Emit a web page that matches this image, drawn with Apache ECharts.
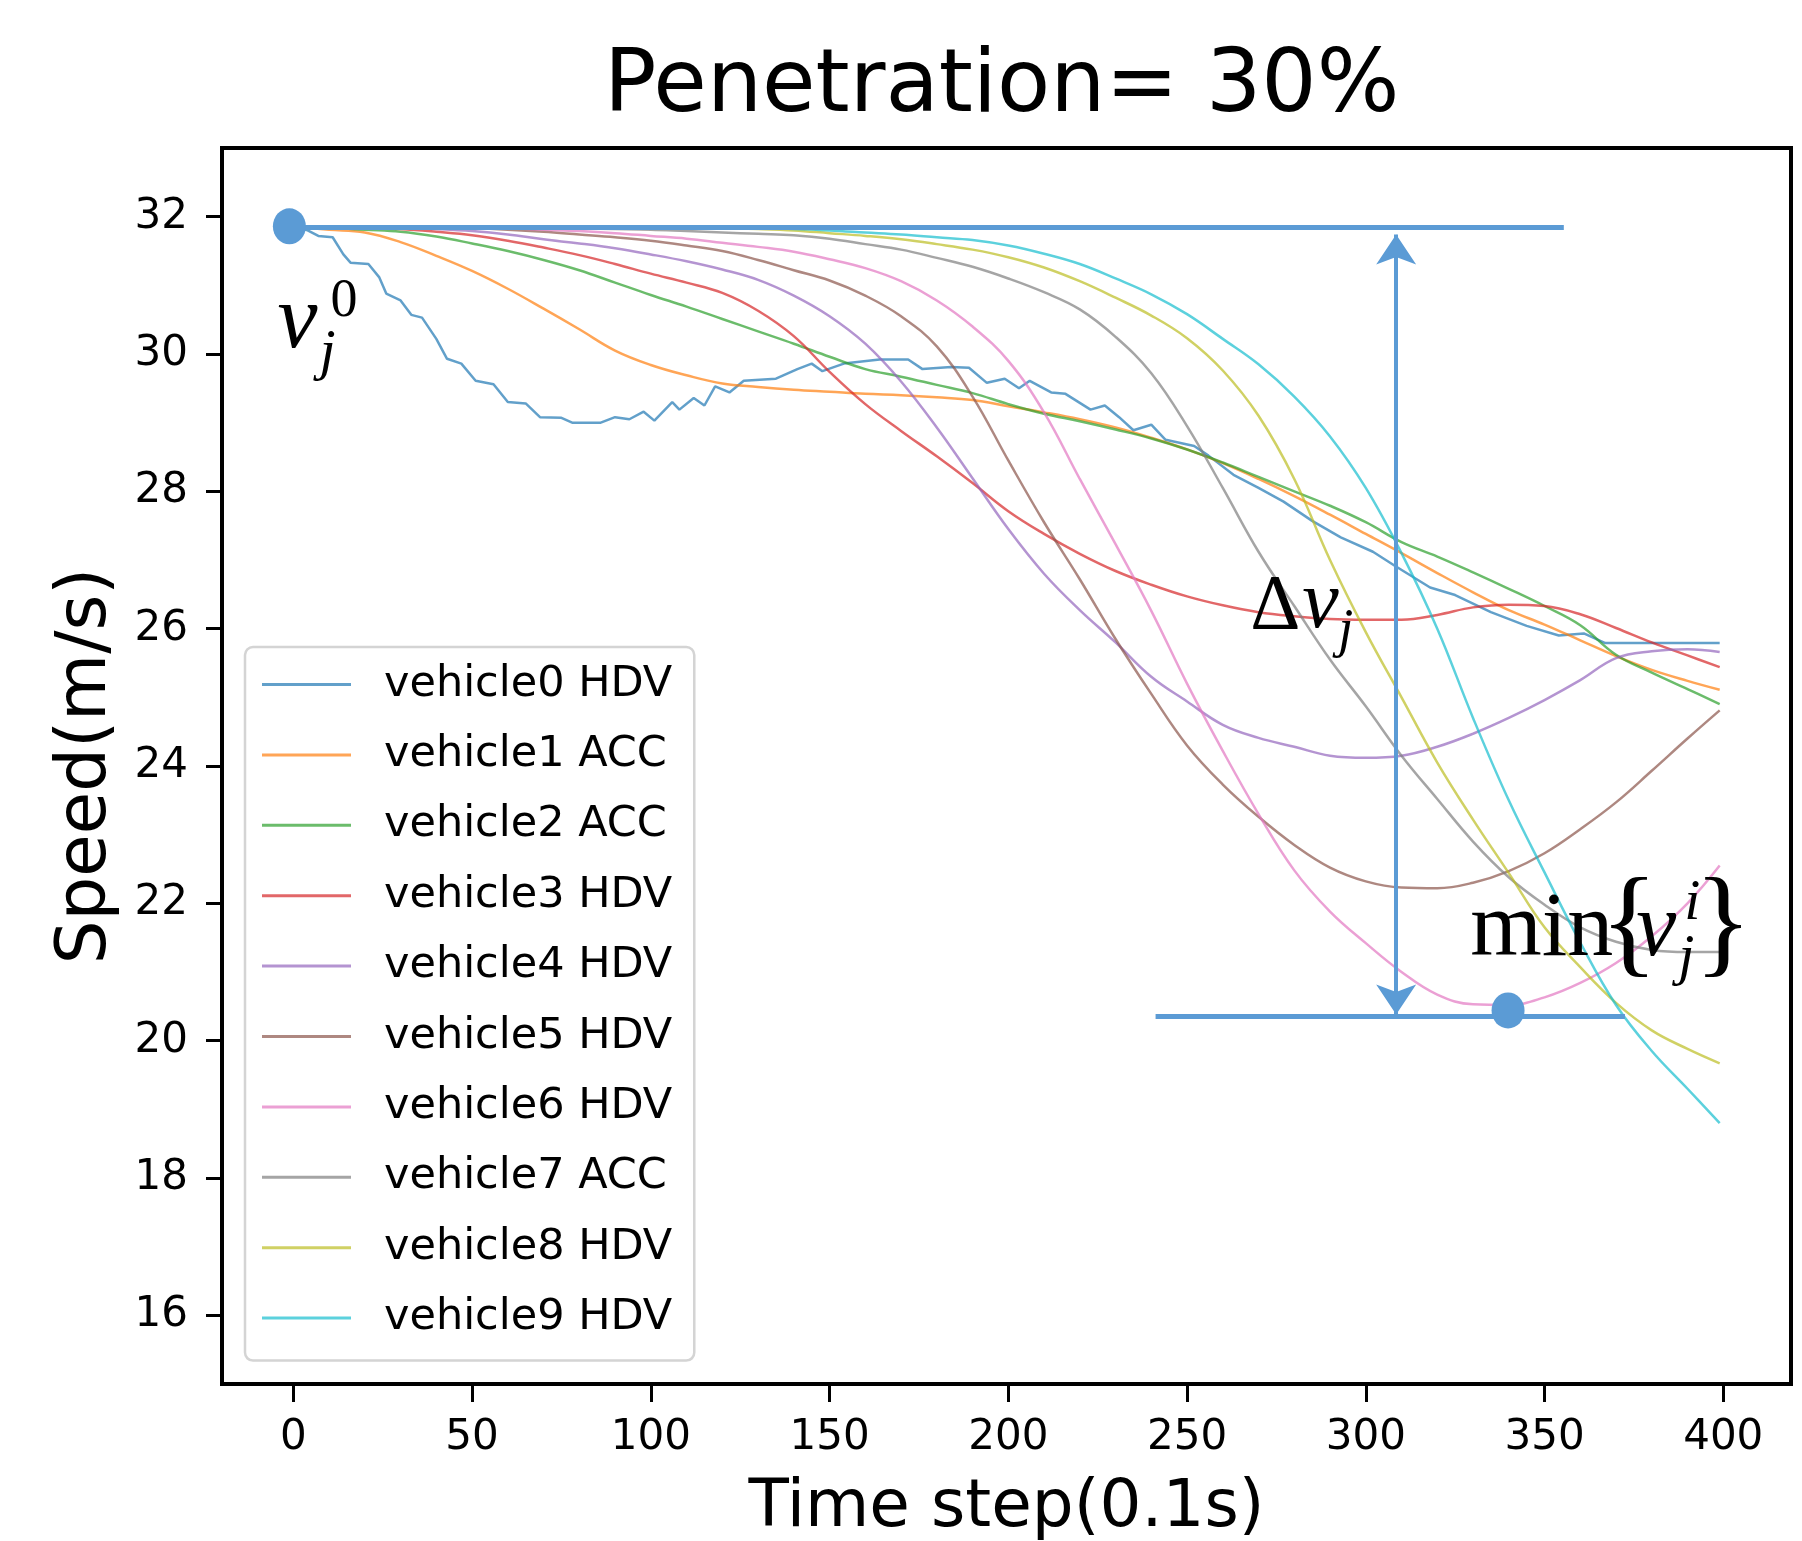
<!DOCTYPE html>
<html>
<head>
<meta charset="utf-8">
<script src="https://cdn.jsdelivr.net/npm/echarts@6.0.0/dist/echarts.min.js"></script>
<style>
html, body { margin: 0; padding: 0; background: #fff; }
#main { width: 1802px; height: 1541px; }
</style>
</head>
<body>
<div id="main"></div>
<script>
var names = ['vehicle0 HDV', 'vehicle1 ACC', 'vehicle2 ACC', 'vehicle3 HDV', 'vehicle4 HDV',
             'vehicle5 HDV', 'vehicle6 HDV', 'vehicle7 ACC', 'vehicle8 HDV', 'vehicle9 HDV'];
var colors = ['rgba(31,119,180,0.7)', 'rgba(255,127,14,0.7)', 'rgba(44,160,44,0.7)', 'rgba(214,39,40,0.7)',
              'rgba(148,103,189,0.7)', 'rgba(140,86,75,0.7)', 'rgba(227,119,194,0.7)', 'rgba(127,127,127,0.7)',
              'rgba(188,189,34,0.7)', 'rgba(23,190,207,0.7)'];

// time steps where the smooth curves were read
var stepX = [0,10,20,30,40,50,60,70,80,90,100,110,120,130,140,150,160,170,180,190,200,
             210,220,230,240,250,260,270,280,290,300,310,320,330,340,350,360,370,380,390,399];

// vehicle0 is noisy, read at its own steps
var v0X = [0,4,7,11,14,16,21,24,26,30,33,36,40,43,47,51,56,60,65,69,75,78,86,90,94,98,101,106,108,112,
           115,118,122,126,135,141,145,148,154,164,172,176,184,189,194,199,203,206,212,216,223,227,231,235,
           240,244,252,256,263,270,277,285,293,302,308,318,325,335,345,354,361,367,399];
var v0Y = [31.85,31.80,31.72,31.70,31.45,31.33,31.31,31.12,30.88,30.78,30.57,30.53,30.22,29.93,29.86,29.61,
           29.56,29.30,29.28,29.08,29.07,29.00,29.00,29.08,29.05,29.16,29.03,29.30,29.19,29.36,29.25,29.53,
           29.44,29.61,29.64,29.78,29.86,29.75,29.86,29.92,29.92,29.78,29.81,29.80,29.58,29.64,29.50,29.61,
           29.44,29.42,29.19,29.25,29.08,28.89,28.97,28.75,28.66,28.52,28.24,28.05,27.85,27.57,27.33,27.12,
           26.92,26.60,26.49,26.24,26.04,25.90,25.93,25.79,25.79];

var v1 = [31.85,31.81,31.77,31.63,31.43,31.21,30.95,30.66,30.36,30.05,29.84,29.69,29.57,29.52,29.48,29.45,
          29.42,29.40,29.37,29.33,29.24,29.15,29.05,28.93,28.78,28.61,28.41,28.18,27.93,27.66,27.38,27.10,
          26.81,26.53,26.27,26.06,25.83,25.60,25.40,25.24,25.11];
var v2 = [31.85,31.84,31.81,31.78,31.71,31.61,31.50,31.37,31.22,31.04,30.86,30.69,30.51,30.33,30.15,29.96,
          29.78,29.67,29.55,29.43,29.27,29.13,29.02,28.90,28.77,28.61,28.42,28.21,28.00,27.79,27.55,27.26,
          27.05,26.82,26.58,26.33,26.05,25.62,25.36,25.12,24.90];
var v3 = [31.85,31.85,31.84,31.82,31.78,31.73,31.65,31.55,31.44,31.31,31.17,31.04,30.89,30.63,30.26,29.74,
          29.27,28.88,28.51,28.12,27.71,27.38,27.09,26.84,26.64,26.47,26.34,26.24,26.18,26.14,26.13,26.13,
          26.20,26.31,26.35,26.33,26.21,26.01,25.80,25.61,25.44];
var v4 = [31.85,31.85,31.85,31.84,31.82,31.79,31.74,31.67,31.61,31.54,31.45,31.35,31.23,31.08,30.85,30.55,
          30.15,29.60,28.93,28.19,27.45,26.80,26.27,25.80,25.30,24.94,24.60,24.41,24.28,24.15,24.12,24.15,
          24.28,24.47,24.70,24.96,25.25,25.57,25.67,25.70,25.66];
var v5 = [31.85,31.85,31.85,31.85,31.84,31.83,31.81,31.78,31.74,31.70,31.65,31.58,31.50,31.37,31.22,31.07,
          30.85,30.55,30.11,29.38,28.45,27.55,26.72,25.85,25.05,24.30,23.73,23.26,22.85,22.52,22.32,22.23,
          22.22,22.30,22.47,22.73,23.08,23.47,23.93,24.40,24.81];
var v6 = [31.85,31.85,31.85,31.85,31.85,31.84,31.83,31.81,31.79,31.76,31.72,31.68,31.62,31.56,31.49,31.38,
          31.25,31.06,30.78,30.40,29.90,29.15,28.18,27.23,26.26,25.20,24.22,23.30,22.48,21.88,21.42,21.00,
          20.67,20.53,20.52,20.63,20.84,21.13,21.52,22.00,22.55];
var v7 = [31.85,31.85,31.85,31.85,31.85,31.85,31.84,31.84,31.83,31.82,31.81,31.79,31.77,31.75,31.73,31.68,
          31.60,31.52,31.40,31.27,31.10,30.90,30.65,30.25,29.72,28.95,28.05,27.12,26.33,25.55,24.87,24.15,
          23.52,22.90,22.38,21.98,21.65,21.44,21.32,21.29,21.29];
var v8 = [31.85,31.85,31.85,31.85,31.85,31.85,31.85,31.85,31.85,31.85,31.84,31.84,31.83,31.82,31.80,31.76,
          31.72,31.67,31.60,31.52,31.41,31.26,31.06,30.82,30.56,30.23,29.76,29.10,28.18,27.00,25.95,25.00,
          24.05,23.22,22.44,21.65,21.07,20.55,20.15,19.88,19.67];
var v9 = [31.85,31.85,31.85,31.85,31.85,31.85,31.85,31.85,31.85,31.84,31.84,31.84,31.83,31.83,31.82,31.80,
          31.77,31.74,31.70,31.66,31.58,31.46,31.31,31.10,30.87,30.58,30.22,29.85,29.38,28.80,28.05,27.10,
          26.00,24.70,23.50,22.45,21.43,20.52,19.85,19.30,18.80];

var xTicks = [0, 50, 100, 150, 200, 250, 300, 350, 400];
var yTicks = [16, 18, 20, 22, 24, 26, 28, 30, 32];

// annotation anchors, in data coordinates
var dotStart = [-1.1, 31.86];
var dotMin = [339.8, 20.44];
var topLine = [[-1.1, 31.85], [355.4, 31.85]];
var lowLine = [[241.2, 20.35], [372.5, 20.35]];
var arrowLine = [[308.5, 20.38], [308.5, 31.74]];

var speeds = [null, v1, v2, v3, v4, v5, v6, v7, v8, v9];
function pairs(xs, ys) {
    return xs.map(function (x, i) { return [x, ys[i]]; });
}

var series = names.map(function (n, i) {
    return {
        name: n,
        type: 'line',
        data: i === 0 ? pairs(v0X, v0Y) : pairs(stepX, speeds[i]),
        symbol: 'none',
        showSymbol: false,
        smooth: i === 0 ? false : 0.4,
        lineStyle: { width: 2.5, color: colors[i] },
        itemStyle: { color: colors[i] },
        silent: true
    };
});

var annoBlue = '#5b9bd5';
series.push({
    name: 'annotation',
    type: 'scatter',
    data: [dotStart, dotMin],
    symbol: 'circle',
    symbolSize: [33, 36],
    itemStyle: { color: annoBlue, opacity: 1 },
    silent: true,
    z: 5,
    markLine: {
        silent: true,
        symbol: 'none',
        label: { show: false },
        lineStyle: { color: annoBlue, width: 5, type: 'solid' },
        data: [
            [{ coord: topLine[0] }, { coord: topLine[1] }],
            [{ coord: lowLine[0] }, { coord: lowLine[1] }],
            [{ coord: arrowLine[0], symbol: 'arrow', symbolSize: [30, 30], lineStyle: { width: 4, color: annoBlue } },
             { coord: arrowLine[1], symbol: 'arrow', symbolSize: [30, 30] }]
        ]
    }
});

var font = 'DejaVu Sans';
var chart = echarts.init(document.getElementById('main'), null, { renderer: 'canvas' });
chart.setOption({
    animation: false,
    backgroundColor: '#fff',
    title: {
        text: 'Penetration= 30%',
        left: 604,
        top: 45,
        padding: 0,
        textStyle: { fontFamily: font, fontSize: 87, fontWeight: 'normal', color: '#000' }
    },
    grid: {
        left: 222, right: 11, top: 148, bottom: 157,
        outerBoundsMode: 'none',
        containLabel: false,
        show: true, borderColor: '#000', borderWidth: 4, backgroundColor: 'transparent'
    },
    legend: {
        data: names,
        orient: 'vertical',
        left: 245,
        top: 647,
        padding: [16, 22, 21, 17],
        itemWidth: 89,
        itemHeight: 3,
        itemGap: 27.4,
        icon: 'rect',
        selectedMode: false,
        backgroundColor: '#fff',
        borderColor: '#d4d4d4',
        borderWidth: 2.5,
        borderRadius: 8,
        textStyle: { fontFamily: font, fontSize: 43, lineHeight: 43, color: '#000', padding: [0, 0, 0, 28] }
    },
    xAxis: {
        type: 'value',
        min: -19.95,
        max: 418.95,
        axisLine: { show: true, onZero: false, lineStyle: { color: '#000', width: 4 } },
        splitLine: { show: false },
        axisTick: { show: true, customValues: xTicks, length: 18, lineStyle: { color: '#000', width: 3 } },
        axisLabel: { customValues: xTicks, margin: 33, fontFamily: font, fontSize: 42, color: '#000' },
        name: 'Time step(0.1s)',
        nameLocation: 'middle',
        nameGap: 92,
        nameTextStyle: { fontFamily: font, fontSize: 66, color: '#000' }
    },
    yAxis: {
        type: 'value',
        min: 15,
        max: 33,
        axisLine: { show: true, onZero: false, lineStyle: { color: '#000', width: 4 } },
        splitLine: { show: false },
        axisTick: { show: true, customValues: yTicks, length: 16, lineStyle: { color: '#000', width: 3 } },
        axisLabel: { customValues: yTicks, margin: 34, fontFamily: font, fontSize: 42, color: '#000' },
        name: 'Speed(m/s)',
        nameLocation: 'middle',
        nameGap: 100,
        nameRotate: 90,
        nameTextStyle: { fontFamily: font, fontSize: 69, color: '#000' }
    },
    series: series
});

// math labels: pieces offset from a data anchor (baseline of the first glyph)
var mathLabels = [
    { at: [-4.4, 30.01], parts: [
        { t: 'v', dx: 0, dy: 0, size: 90, italic: true },
        { t: '0', dx: 53, dy: -33, size: 54 },
        { t: 'j', dx: 42, dy: 20, size: 58, italic: true }
    ] },
    { at: [267.7, 25.93], parts: [
        { t: '\u0394', dx: 0, dy: 0, size: 78 },
        { t: 'v', dx: 52, dy: 0, size: 82, italic: true },
        { t: 'j', dx: 88, dy: 17, size: 54, italic: true }
    ] },
    { at: [329.2, 21.15], parts: [
        { t: 'min', dx: 0, dy: 0, size: 92 },
        { t: '{', dx: 130, dy: 8, size: 120 },
        { t: 'v', dx: 166, dy: 0, size: 90, italic: true },
        { t: 'i', dx: 214, dy: -38, size: 58, italic: true },
        { t: 'j', dx: 208, dy: 17, size: 58, italic: true },
        { t: '}', dx: 224, dy: 8, size: 120 }
    ] }
];

var graphics = [];
mathLabels.forEach(function (lab) {
    var p = chart.convertToPixel({ gridIndex: 0 }, lab.at);
    lab.parts.forEach(function (q) {
        graphics.push({
            type: 'text',
            silent: true,
            z: 100,
            x: p[0] + q.dx,
            y: p[1] + q.dy - 0.338 * q.size,
            style: {
                text: q.t,
                fill: '#000',
                font: (q.italic ? 'italic ' : '') + q.size + 'px "Liberation Serif"',
                align: 'left', verticalAlign: 'middle',
                textAlign: 'left', textVerticalAlign: 'middle'
            }
        });
    });
});
chart.setOption({ graphic: graphics });
</script>
</body>
</html>
